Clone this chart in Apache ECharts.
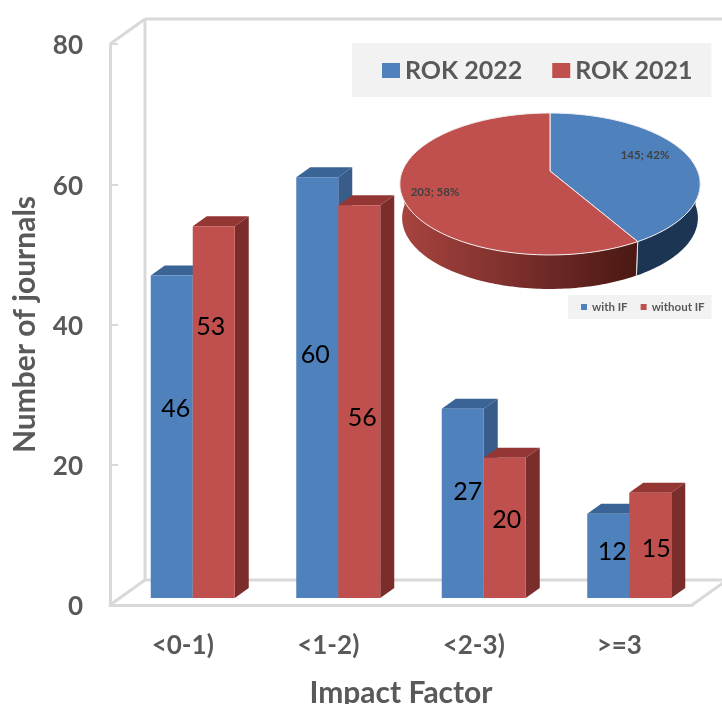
<!DOCTYPE html>
<html>
<head>
<meta charset="utf-8">
<style>html,body{margin:0;padding:0;background:#fff}#chart{width:722px;height:704px}</style>
<script src="https://cdn.jsdelivr.net/npm/echarts@6/dist/echarts.min.js"></script>
</head>
<body>
<div id="chart"></div>
<script>
// Journal counts per impact factor band
const categories = ['<0-1)', '<1-2)', '<2-3)', '>=3'];
const rok2022 = [46, 60, 27, 12];
const rok2021 = [53, 56, 20, 15];
const valueTicks = { min: 0, max: 80, interval: 20 };

// Journals with and without an impact factor
const withIF = 145;
const withoutIF = 203;

// Hand-placed nudges for the value labels, in pixels from the bar centre
const nudge2022 = [[4, -28], [-2, -33], [5, -11], [4, -4]];
const nudge2021 = [[-3, -85], [3, 16], [2, -8], [6, 4]];

const FONT = 'Lato';
const INK = '#595959';
const WALL = '#d9d9d9';
const BAR_W = 42, DX = 14, DY = 10;

// One 3D column: front face, side face, top face and its value label
function columnItem(side, front, sideFill, topFill, nudges) {
  return function (params, api) {
    const i = api.value(0), v = api.value(1);
    const top = api.coord([i, v]), base = api.coord([i, 0]);
    const x0 = side < 0 ? top[0] - BAR_W : top[0], x1 = x0 + BAR_W;
    const yt = top[1], yb = base[1];
    const n = nudges[i];
    return {
      type: 'group',
      children: [
        { type: 'polygon', shape: { points: [[x1, yt], [x1 + DX, yt - DY], [x1 + DX, yb - DY], [x1, yb]] }, style: { fill: sideFill } },
        { type: 'polygon', shape: { points: [[x0, yt], [x0 + DX, yt - DY], [x1 + DX, yt - DY], [x1, yt]] }, style: { fill: topFill } },
        { type: 'rect', shape: { x: x0, y: yt, width: BAR_W, height: yb - yt }, style: { fill: front } },
        { type: 'text', z2: 10, style: { text: String(v), x: (x0 + x1) / 2 + n[0], y: (yt + yb) / 2 + n[1],
            align: 'center', verticalAlign: 'middle', fontFamily: FONT, fontSize: 25, fill: '#000' } }
      ]
    };
  };
}

// Back wall, side wall and floor outline of the box behind the columns
function wallItem(params) {
  const r = params.coordSys, L = r.x, R = r.x + r.width, T = r.y, B = r.y + r.height;
  const dx = 35, dy = -25;
  const line = (x1, y1, x2, y2) => ({ type: 'line', shape: { x1, y1, x2, y2 }, style: { stroke: WALL, lineWidth: 3 } });
  return {
    type: 'group',
    children: [
      line(L, T, L + dx, T + dy),
      line(L, B, L + dx, B + dy),
      line(R, B, R + dx, B + dy),
      line(L + dx, T + dy, L + dx, B + dy),
      line(L + dx, T + dy, R + dx, T + dy),
      line(L + dx, B + dy, R + dx, B + dy)
    ]
  };
}

// Perspective projection of the tilted pie disc
const PIE = { cx: 550, cy: 171, B: 147.6, A: 68.6, k: 0.183, depth: 34, shrink: 0.985 };
function pieTop(theta) {
  const u = Math.sin(theta), v = -Math.cos(theta), d = 1 - PIE.k * v;
  return [PIE.cx + PIE.B * u / d, PIE.cy + PIE.A * v / d];
}
function pieBottom(theta) {
  const p = pieTop(theta);
  return [PIE.cx + (p[0] - PIE.cx) * PIE.shrink, p[1] + PIE.depth];
}
function arc(fn, a, b) {
  const pts = [], n = Math.max(2, Math.ceil(Math.abs(b - a) / 0.02));
  for (let i = 0; i <= n; i++) pts.push(fn(a + (b - a) * i / n));
  return pts;
}

const pieTotal = withIF + withoutIF;

// One pie slice: rim, top face and "value; percent" label
function sliceItem(startValue, fill, rimFill, labelAt) {
  return function (params, api) {
    const v = api.value(0);
    const a = startValue / pieTotal * 2 * Math.PI, b = (startValue + v) / pieTotal * 2 * Math.PI;
    const ra = Math.max(a, Math.PI / 2), rb = Math.min(b, Math.PI * 1.5);
    const rim = arc(pieTop, ra, rb).concat(arc(pieBottom, rb, ra));
    const top = [[PIE.cx, PIE.cy]].concat(arc(pieTop, a, b));
    const seamTop = pieTop(b > Math.PI ? a : b), seamBottom = pieBottom(b > Math.PI ? a : b);
    return {
      type: 'group',
      children: [
        { type: 'polygon', shape: { points: rim }, style: { fill: rimFill } },
        { type: 'line', shape: { x1: seamTop[0], y1: seamTop[1], x2: seamBottom[0], y2: seamBottom[1] }, style: { stroke: '#e8e4e4', lineWidth: 1 } },
        { type: 'polygon', shape: { points: top }, style: { fill, stroke: '#f4f0f0', lineWidth: 1 } },
        { type: 'text', style: { text: v + '; ' + Math.round(v / pieTotal * 100) + '%', x: labelAt[0], y: labelAt[1],
            align: 'center', verticalAlign: 'middle', fontFamily: FONT, fontSize: 11.5, fontWeight: 'bold', fill: '#404040' } }
      ]
    };
  };
}

const axisText = { fontFamily: FONT, fontWeight: 'bold', color: INK };
const chart = echarts.init(document.getElementById('chart'), null, { renderer: 'canvas' });
chart.setOption({
  animation: false,
  backgroundColor: '#fff',
  grid: [
    { left: 110, right: 30, top: 44, bottom: 99, outerBoundsMode: 'none' },
    { left: 120, right: 20, top: 37, bottom: 106, outerBoundsMode: 'none' }
  ],
  xAxis: [
    {
      gridIndex: 0, type: 'category', data: categories,
      name: 'Impact Factor', nameLocation: 'middle', nameGap: 73,
      nameTextStyle: { ...axisText, fontSize: 30 },
      axisLine: { lineStyle: { color: WALL, width: 3 } },
      axisTick: { show: false },
      axisLabel: { ...axisText, fontSize: 26, margin: 28, interval: 0 }
    },
    { gridIndex: 1, type: 'category', data: categories, show: false }
  ],
  yAxis: [
    {
      gridIndex: 0, type: 'value', ...valueTicks,
      name: 'Number of journals', nameLocation: 'middle', nameGap: 70,
      nameTextStyle: { ...axisText, fontSize: 30 },
      axisLine: { show: true, lineStyle: { color: WALL, width: 3 } },
      axisTick: { show: true, inside: true, length: 8, lineStyle: { color: WALL, width: 2 } },
      axisLabel: { ...axisText, fontSize: 26, margin: 27, verticalAlign: 'top', padding: [-11, 0, 0, 0] },
      splitLine: { show: false }
    },
    { gridIndex: 1, type: 'value', ...valueTicks, show: false, splitLine: { show: false } }
  ],
  legend: [
    {
      data: ['ROK 2022', 'ROK 2021'], left: 352, top: 43, width: 362, orient: 'horizontal',
      backgroundColor: '#f2f2f2', borderRadius: 0, padding: [15, 19, 14, 30], icon: 'rect',
      itemWidth: 18, itemHeight: 15, itemGap: 30, selectedMode: false,
      textStyle: { fontFamily: FONT, fontWeight: 'bold', fontSize: 25, color: INK }
    },
    {
      data: ['with IF', 'without IF'], left: 568, top: 295, width: 144, orient: 'horizontal',
      backgroundColor: '#f2f2f2', borderRadius: 0, padding: [6, 7, 6, 13], icon: 'rect',
      itemWidth: 6, itemHeight: 6, itemGap: 13, selectedMode: false,
      textStyle: { fontFamily: FONT, fontWeight: 'bold', fontSize: 11.5, color: INK }
    }
  ],
  series: [
    {
      type: 'custom', name: 'walls', xAxisIndex: 0, yAxisIndex: 0, clip: false, silent: true,
      data: [[0, 0]], renderItem: wallItem, z: 1
    },
    {
      type: 'custom', name: 'ROK 2022', xAxisIndex: 1, yAxisIndex: 1, clip: false, z: 2,
      itemStyle: { color: '#4f81bd' }, encode: { x: 0, y: 1 },
      data: rok2022.map((v, i) => [i, v]),
      renderItem: columnItem(-1, '#4f81bd', '#385d8a', '#3b6496', nudge2022)
    },
    {
      type: 'custom', name: 'ROK 2021', xAxisIndex: 1, yAxisIndex: 1, clip: false, z: 3,
      itemStyle: { color: '#c0504d' }, encode: { x: 0, y: 1 },
      data: rok2021.map((v, i) => [i, v]),
      renderItem: columnItem(1, '#c0504d', '#7b2d2b', '#943634', nudge2021)
    },
    {
      type: 'custom', name: 'with IF', coordinateSystem: 'none', z: 5,
      itemStyle: { color: '#4f81bd' },
      data: [[withIF]],
      renderItem: sliceItem(0, '#4f81bd', '#1c3553', [645, 155])
    },
    {
      type: 'custom', name: 'without IF', coordinateSystem: 'none', z: 6,
      itemStyle: { color: '#c0504d' },
      data: [[withoutIF]],
      renderItem: sliceItem(withIF, '#c0504d', {
        type: 'linear', x: 0, y: 0, x2: 1, y2: 0,
        colorStops: [{ offset: 0, color: '#a8443f' }, { offset: 0.5, color: '#7a2e2c' }, { offset: 1, color: '#4a1812' }]
      }, [435, 192])
    }
  ]
});
</script>
</body>
</html>
